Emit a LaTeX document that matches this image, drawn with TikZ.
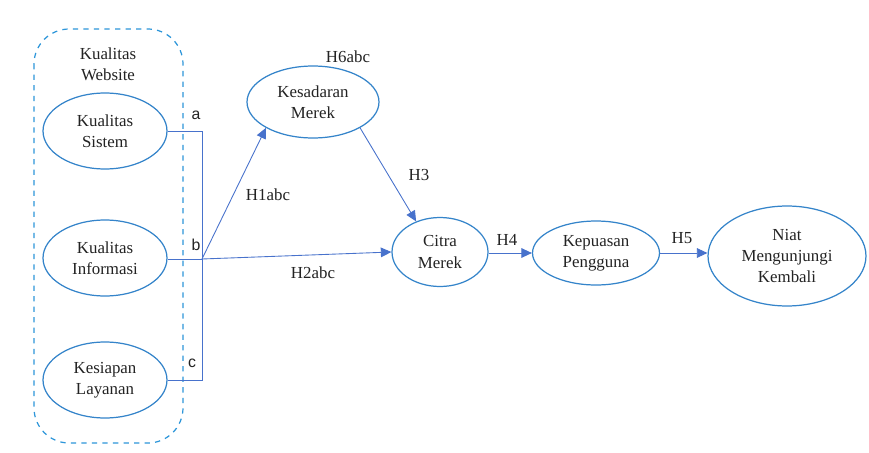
\documentclass[tikz,border=0pt]{standalone}
\usepackage{fontspec}
\setmainfont{Liberation Serif}
\newfontfamily\serifFont{Liberation Serif}
\newfontfamily\labelFont{Liberation Sans}
\definecolor{ellBlue}{RGB}{52, 132, 202}
\definecolor{boxBlue}{RGB}{45, 150, 218}
\definecolor{arrBlue}{RGB}{72, 114, 204}
\definecolor{inkGray}{RGB}{35, 35, 35}
\usepackage{tikz}
\usetikzlibrary{shapes,arrows,positioning,calc,arrows.meta}

\begin{document}
\begin{tikzpicture}[x=0.02cm,y=-0.02cm,
        var/.style={ellipse,draw=ellBlue,line width=0.7pt,inner sep=0pt,
                    align=center,text=inkGray,font=\serifFont\fontsize{9.6}{12}\selectfont},
        link/.style={draw=arrBlue,line width=0.5pt},
        path/.style={link,-{Triangle[length=6pt,width=5.5pt]}},
        lbl/.style={text=inkGray,font=\serifFont\fontsize{9.6}{12}\selectfont}
    ]
        \useasboundingbox (0,0) rectangle (869,453);
        \fill[white] (0,0) rectangle (869,453);

        % Kualitas Website group
        \draw[boxBlue,dashed,line width=0.7pt,rounded corners=20] (34,29) rectangle (183,443);
        \node[lbl,align=center] (web) at (108,64) {Kualitas\\Website};

        \node[var,minimum width=2.48cm,minimum height=1.52cm] (sis) at (105,131) {Kualitas\\Sistem};
        \node[var,minimum width=2.48cm,minimum height=1.52cm] (inf) at (105,258) {Kualitas\\Informasi};
        \node[var,minimum width=2.48cm,minimum height=1.52cm] (lay) at (105,380) {Kesiapan\\Layanan};

        % junction of a, b, c
        \coordinate (jn) at (202,259);
        \draw[link] (sis.east) -| (jn);
        \draw[link] (lay.east) -| (jn);
        \draw[link] (inf.east |- jn) -- (jn);
        \node[lbl,font=\labelFont\fontsize{9}{11}\selectfont] (la) at (196,115) {a};
        \node[lbl,font=\labelFont\fontsize{9}{11}\selectfont] (lb) at (196,245) {b};
        \node[lbl,font=\labelFont\fontsize{9}{11}\selectfont] (lc) at (192,363) {c};

        % mediators and outcomes
        \node[var,minimum width=2.64cm,minimum height=1.44cm] (kes) at (313,102) {Kesadaran\\Merek};
        \node[var,minimum width=1.92cm,minimum height=1.38cm] (cit) at (440,252) {Citra\\Merek};
        \node[var,minimum width=2.54cm,minimum height=1.28cm] (kep) at (596,253) {Kepuasan\\Pengguna};
        \node[var,minimum width=3.16cm,minimum height=2.0cm] (nia) at (787,256) {Niat\\Mengunjungi\\Kembali};

        % paths
        \draw[path] (jn) -- (kes.south west);
        \draw[path] (jn) -- (cit.west);
        \draw[path] (kes.south east) -- (cit.128);
        \draw[path] (cit.east |- kep.west) -- (kep.west);
        \draw[path] (kep.east) -- (kep.east -| nia.west);

        % hypothesis labels
        \node[lbl] (h6) at (348,57) {H6abc};
        \node[lbl] (h1) at (268,195) {H1abc};
        \node[lbl] (h2) at (313,273) {H2abc};
        \node[lbl] (h3) at (419,175) {H3};
        \node[lbl] (h4) at (507,240) {H4};
        \node[lbl] (h5) at (682,238) {H5};

    \end{tikzpicture}
\end{document}
